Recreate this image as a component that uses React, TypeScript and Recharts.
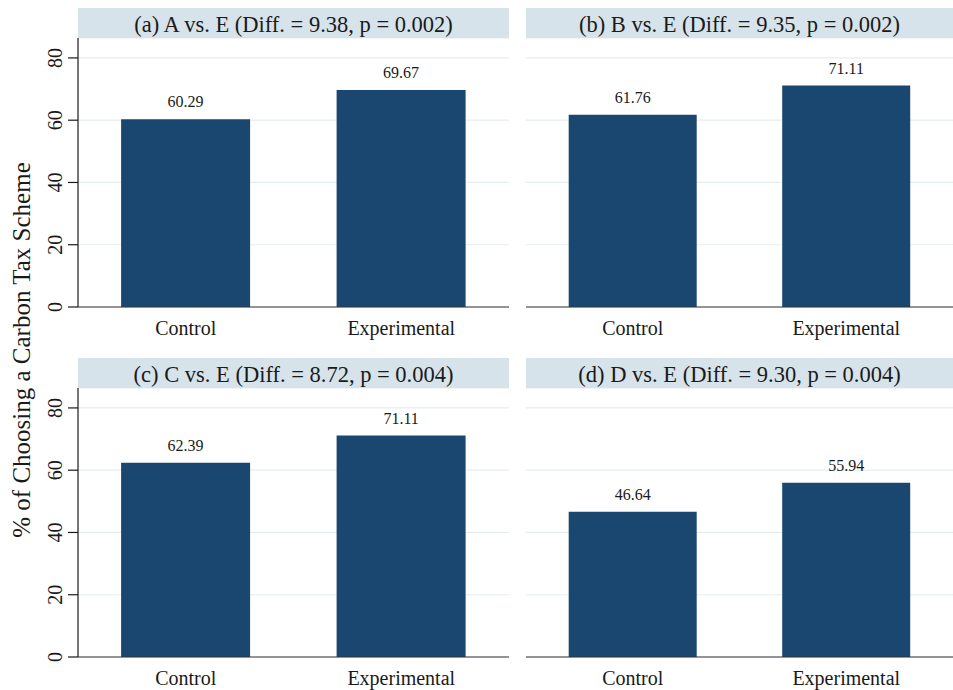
import React from 'react';
import { BarChart, Bar, XAxis, YAxis, CartesianGrid, LabelList, Customized } from 'recharts';

// Treatment groups shown in each panel
const groups = ['Control', 'Experimental'];

// Panel headings
const panelTitles = [
  '(a) A vs. E (Diff. = 9.38, p = 0.002)',
  '(b) B vs. E (Diff. = 9.35, p = 0.002)',
  '(c) C vs. E (Diff. = 8.72, p = 0.004)',
  '(d) D vs. E (Diff. = 9.30, p = 0.004)',
];

// Share (%) choosing a carbon tax scheme, per panel
const controlShare = [60.29, 61.76, 62.39, 46.64];
const experimentalShare = [69.67, 71.11, 71.11, 55.94];

const yTicks = [0, 20, 40, 60, 80];
const yMax = 86.4;
const yAxisTitle = '% of Choosing a Carbon Tax Scheme';

const FONT = "'Liberation Serif', 'Times New Roman', Times, serif";
const NAVY = '#1a476f';
const HEADER_FILL = '#d7e3ea';
const GRID = '#e6edf1';
const INK = '#1a1a1a';

const HEADER_H = 30;
const PLOT_TOP = 38;
const PLOT_H = 269;
const XAXIS_H = 40;
const CHART_H = PLOT_TOP + PLOT_H + XAXIS_H;
const YAXIS_W = 60;

type PanelLayout = { left: number; top: number; width: number; plotLeft: number; plotRight: number; showY: boolean };

const layouts: PanelLayout[] = [
  { left: 0, top: 0, width: 512, plotLeft: 78, plotRight: 509, showY: true },
  { left: 520, top: 0, width: 433, plotLeft: 6, plotRight: 433, showY: false },
  { left: 0, top: 350, width: 512, plotLeft: 78, plotRight: 509, showY: true },
  { left: 520, top: 350, width: 433, plotLeft: 6, plotRight: 433, showY: false },
];

const textStyle = (size: number): React.CSSProperties => ({ fontFamily: FONT, fontSize: size, fill: INK });

const PanelHeader = ({ x, w, title }: { x: number; w: number; title: string }) => (
  <g>
    <rect x={x} y={PLOT_TOP - HEADER_H} width={w} height={HEADER_H} fill={HEADER_FILL} />
    <text x={x + w / 2} y={PLOT_TOP - HEADER_H + 23.5} textAnchor="middle" style={textStyle(22.5)}>
      {title}
    </text>
  </g>
);

const YTick = (props: any) => {
  const { x, y, payload } = props;
  return (
    <text x={x} y={y} transform={`rotate(-90, ${x}, ${y})`} textAnchor="middle" style={textStyle(20)}>
      {payload.value}
    </text>
  );
};

const XTick = (props: any) => {
  const { x, y, payload } = props;
  return (
    <text x={x} y={y + 28} textAnchor="middle" style={textStyle(20)}>
      {payload.value}
    </text>
  );
};

const ValueLabel = (props: any) => {
  const { x, y, width, value } = props;
  return (
    <text x={x + width / 2} y={y - 12} textAnchor="middle" style={textStyle(16)}>
      {Number(value).toFixed(2)}
    </text>
  );
};

const Panel = ({ index }: { index: number }) => {
  const lay = layouts[index];
  const data = groups.map((g, i) => ({
    group: g,
    value: i === 0 ? controlShare[index] : experimentalShare[index],
  }));
  const marginLeft = lay.showY ? lay.plotLeft - YAXIS_W : lay.plotLeft;
  const marginRight = lay.width - lay.plotRight;
  return (
    <div style={{ position: 'absolute', left: lay.left, top: lay.top, width: lay.width, height: CHART_H }}>
      <BarChart
        width={lay.width}
        height={CHART_H}
        data={data}
        margin={{ top: PLOT_TOP, right: marginRight, bottom: 0, left: marginLeft }}
        barCategoryGap="20%"
      >
        <CartesianGrid vertical={false} stroke={GRID} strokeWidth={1.2} />
        <YAxis
          hide={!lay.showY}
          width={YAXIS_W}
          domain={[0, yMax]}
          ticks={yTicks}
          interval={0}
          tickSize={10}
          tickMargin={6}
          axisLine={{ stroke: INK, strokeWidth: 1.2 }}
          tickLine={{ stroke: INK, strokeWidth: 1.2 }}
          tick={<YTick />}
        />
        <XAxis
          dataKey="group"
          height={XAXIS_H}
          tickLine={false}
          tickSize={0}
          tickMargin={0}
          axisLine={{ stroke: '#333', strokeWidth: 1.2 }}
          tick={<XTick />}
          interval={0}
        />
        <Bar dataKey="value" fill={NAVY} isAnimationActive={false}>
          <LabelList dataKey="value" content={<ValueLabel />} />
        </Bar>
        <Customized
          component={
            <PanelHeader x={lay.plotLeft} w={lay.plotRight - lay.plotLeft} title={panelTitles[index]} />
          }
        />
      </BarChart>
    </div>
  );
};

export default function App() {
  return (
    <div
      style={{
        position: 'absolute',
        left: 0,
        top: 0,
        width: 953,
        height: 690,
        background: '#fff',
        fontFamily: FONT,
      }}
    >
      <svg width={40} height={690} style={{ position: 'absolute', left: 0, top: 0 }}>
        <text x={30} y={350} transform="rotate(-90, 30, 350)" textAnchor="middle" style={textStyle(25)}>
          {yAxisTitle}
        </text>
      </svg>
      {layouts.map((_, i) => (
        <Panel key={i} index={i} />
      ))}
    </div>
  );
}
